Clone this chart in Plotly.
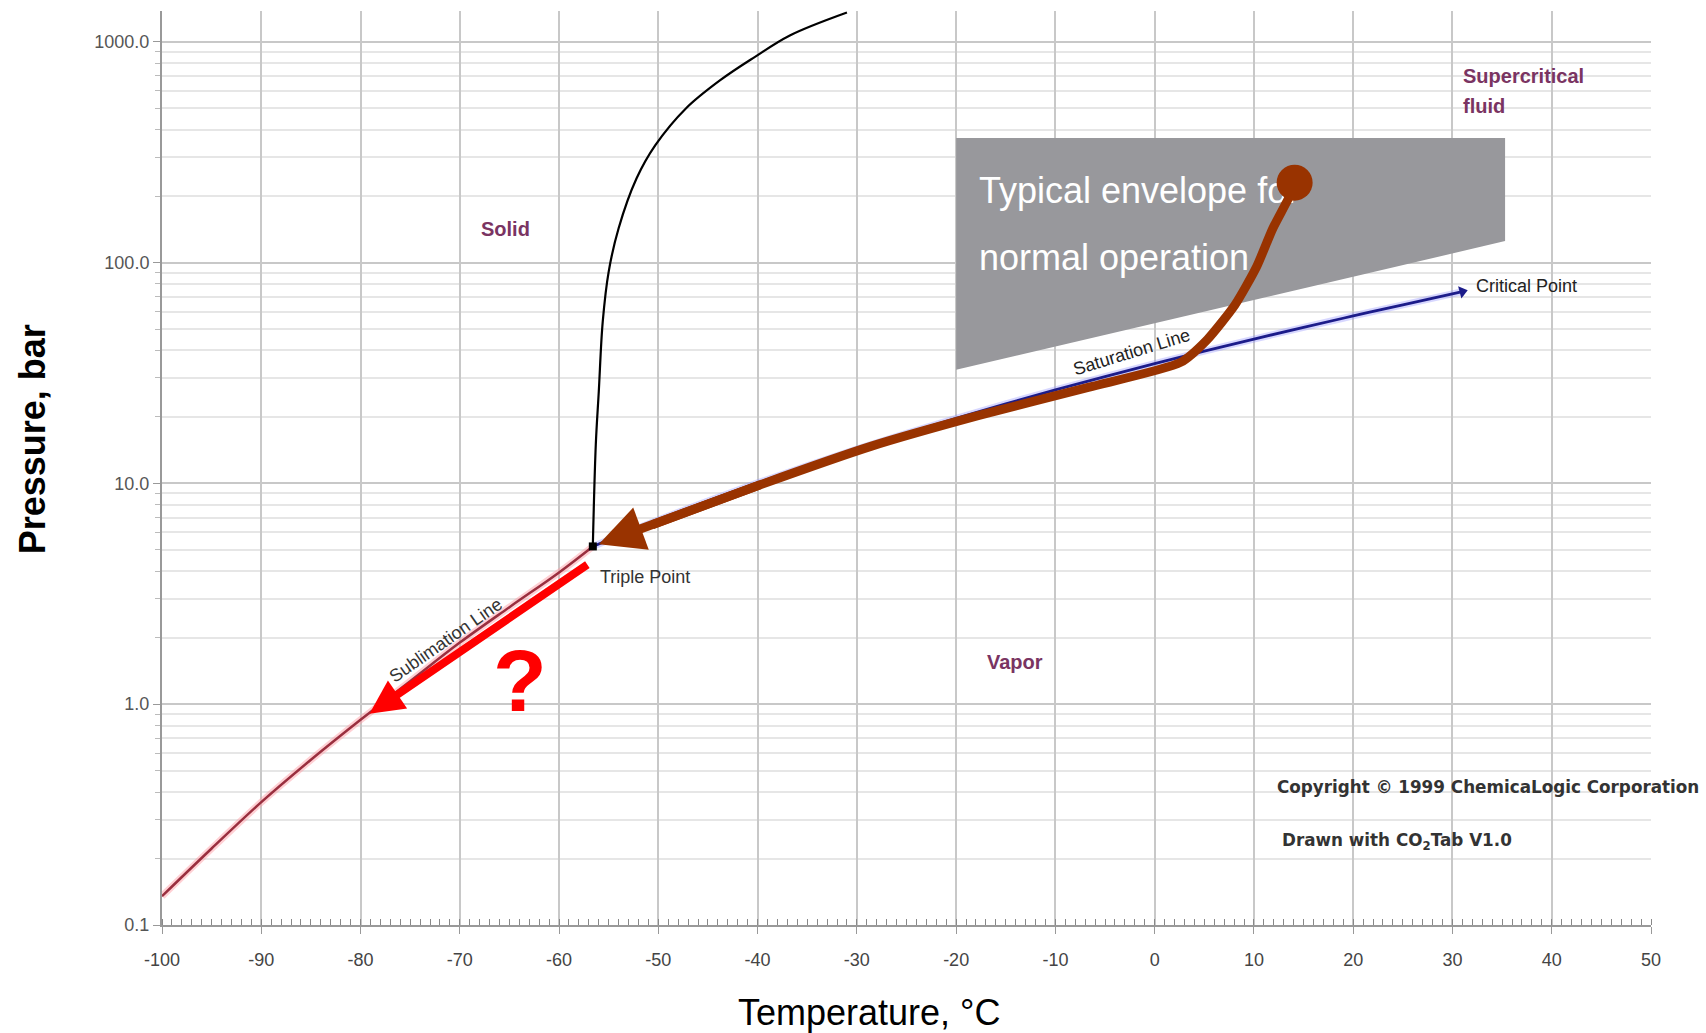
import numpy as np
import plotly.graph_objects as go

# ---------------- data ----------------
# Melting (solid/liquid) line
melt_T = [-56.6, -56.3, -56.0, -55.6, -55.0, -54.0, -52.2, -50.3, -47.2, -43.8, -40.3, -36.8, -31.0]
melt_P = [5.18, 15.0, 26.0, 54.0, 91.0, 143.0, 240.0, 340.0, 500.0, 668.0, 852.0, 1065.0, 1356.0]

# Sublimation line
subl_T = [-100.0, -95.0, -90.0, -85.0, -80.0, -75.0, -70.0, -65.0, -60.0, -56.6]
subl_P = [0.135, 0.222, 0.36, 0.56, 0.85, 1.27, 1.90, 2.75, 3.95, 5.18]

# Saturation (vapour pressure) line
sat_T = [-56.6, -50, -45, -40, -35, -30, -25, -20, -15, -10, -5, 0, 5, 10, 15, 20, 25, 31.0]
sat_P = [5.18, 6.82, 8.32, 10.05, 12.02, 14.28, 16.83, 19.70, 22.91, 26.49, 30.46, 34.85,
         39.69, 45.02, 50.87, 57.29, 64.34, 73.8]

triple_T, triple_P = -56.6, 5.18
critical_T, critical_P = 31.0, 73.8

# Typical operating envelope (grey polygon)
env_T = [-20.0, 35.3, 35.3, -20.0, -20.0]
env_P = [366.0, 366.0, 125.0, 32.7, 366.0]

# Brown blow-down path (from operating point to the triple point)
path_T = [14.1, 13.6, 11.9, 10.27, 8.1, 5.3, 2.6, -6.7, -17.7, -28.6, -39.6, -50.6]
path_P = [230.0, 200.0, 142.6, 95.7, 64.4, 44.8, 35.3, 27.2, 20.3, 14.7, 9.9, 6.5]
path_tip_T, path_tip_P = -56.0, 5.3

# Red question arrow along the sublimation line
red_tail_T, red_tail_P = -57.0, 4.33
red_tip_T, red_tip_P = -79.1, 0.905

# Axis ticks
x_ticks = list(range(-100, 51, 10))
x_ticktext = [str(v) for v in x_ticks]
y_ticks = [0.1, 1, 10, 100, 1000]
y_ticktext = ["0.1", "1.0", "10.0", "100.0", "1000.0"]
y_minor = [m * 10.0 ** e for e in range(-1, 3) for m in range(2, 10)]

# ---------------- figure ----------------
LOG = np.log10
fig = go.Figure()

# grey envelope
fig.add_trace(go.Scatter(x=env_T, y=env_P, mode="lines", fill="toself",
                         fillcolor="rgb(152,152,156)", line=dict(width=0),
                         hoverinfo="skip"))

# envelope text (drawn as trace so the brown dot covers it)
fig.add_trace(go.Scatter(x=[-17.7], y=[10 ** 2.31], mode="text",
                         text=["Typical envelope for"], textposition="middle right",
                         textfont=dict(family="Liberation Sans, Arial", size=36, color="white")))
fig.add_trace(go.Scatter(x=[-17.7], y=[10 ** 2.005], mode="text",
                         text=["normal operation"], textposition="middle right",
                         textfont=dict(family="Liberation Sans, Arial", size=36, color="white")))

# sublimation line (halo + line)
fig.add_trace(go.Scatter(x=subl_T, y=subl_P, mode="lines",
                         line=dict(color="rgba(255,150,160,0.45)", width=7, shape="spline"),
                         hoverinfo="skip"))
fig.add_trace(go.Scatter(x=subl_T, y=subl_P, mode="lines",
                         line=dict(color="#9a2f3f", width=2.5, shape="spline")))

# saturation line (halo + line)
fig.add_trace(go.Scatter(x=sat_T, y=sat_P, mode="lines",
                         line=dict(color="rgba(140,140,255,0.35)", width=7, shape="spline"),
                         hoverinfo="skip"))
fig.add_trace(go.Scatter(x=sat_T, y=sat_P, mode="lines",
                         line=dict(color="#1c1c8a", width=2.8, shape="spline")))
fig.add_trace(go.Scatter(x=[critical_T], y=[critical_P], mode="markers",
                         marker=dict(symbol="triangle-right", size=11, color="#1c1c8a", angle=-15)))

# melting line
fig.add_trace(go.Scatter(x=melt_T, y=melt_P, mode="lines",
                         line=dict(color="black", width=2.2, shape="spline")))
fig.add_trace(go.Scatter(x=[triple_T], y=[triple_P], mode="markers",
                         marker=dict(symbol="square", size=8, color="black")))

# brown path
fig.add_trace(go.Scatter(x=path_T, y=path_P, mode="lines",
                         line=dict(color="#993300", width=9, shape="spline", smoothing=0.6)))
fig.add_trace(go.Scatter(x=[path_T[0]], y=[path_P[0]], mode="markers",
                         marker=dict(size=36, color="#993300")))

annotations = []
# arrowheads
annotations.append(dict(x=path_tip_T, y=LOG(path_tip_P), ax=path_T[-2], ay=LOG(path_P[-2]),
                        xref="x", yref="y", axref="x", ayref="y", text="", showarrow=True,
                        arrowhead=2, arrowsize=1.0, arrowwidth=9, arrowcolor="#993300"))
annotations.append(dict(x=red_tip_T, y=LOG(red_tip_P), ax=red_tail_T, ay=LOG(red_tail_P),
                        xref="x", yref="y", axref="x", ayref="y", text="", showarrow=True,
                        arrowhead=2, arrowsize=0.85, arrowwidth=8, arrowcolor="#ff0000"))

region_font = dict(family="Liberation Sans, Arial", size=20, color="#7a3462")
annotations += [
    dict(x=-65.35, y=2.154, text="<b>Solid</b>", showarrow=False, font=region_font),
    dict(x=-14.07, y=0.193, text="<b>Vapor</b>", showarrow=False, font=region_font),
    dict(x=30.86, y=2.844, text="<b>Supercritical</b>", showarrow=False, xanchor="left", font=region_font),
    dict(x=30.86, y=2.711, text="<b>fluid</b>", showarrow=False, xanchor="left", font=region_font),
    dict(x=32.2, y=1.894, text="Critical Point", showarrow=False, xanchor="left",
         font=dict(family="Liberation Sans, Arial", size=18, color="#222")),
    dict(x=-56.04, y=0.5774, text="Triple Point", showarrow=False, xanchor="left",
         font=dict(family="Liberation Sans, Arial", size=18, color="#333")),
    dict(x=-2.34, y=1.597, text="Saturation Line", showarrow=False, textangle=-17,
         font=dict(family="Liberation Sans, Arial", size=18, color="#222")),
    dict(x=-71.4, y=0.2917, text="Sublimation Line", showarrow=False, textangle=-35,
         font=dict(family="Liberation Sans, Arial", size=18, color="#333")),
    dict(x=-63.9, y=0.109, text="<b>?</b>", showarrow=False,
         font=dict(family="Liberation Sans, Arial", size=88, color="#ff0000")),
    dict(x=12.1, y=-0.3736, text="<b>Copyright © 1999 ChemicaLogic Corporation</b>", showarrow=False,
         xanchor="left", font=dict(family="DejaVu Sans, Verdana", size=16.8, color="#333")),
    dict(x=12.67, y=-0.62, text="<b>Drawn with CO<sub>2</sub>Tab V1.0</b>", showarrow=False,
         xanchor="left", font=dict(family="DejaVu Sans, Verdana", size=16.8, color="#333")),
    # axis titles
    dict(xref="paper", yref="paper", x=-0.0869, y=0.531, xanchor="center", yanchor="middle",
         text="<b>Pressure, bar</b>", textangle=-90, showarrow=False,
         font=dict(family="Liberation Sans, Arial", size=36, color="black")),
    dict(xref="paper", yref="paper", x=0.4751, y=-0.0952, xanchor="center", yanchor="middle",
         text="Temperature, °C", showarrow=False,
         font=dict(family="Liberation Sans, Arial", size=36, color="black")),
]

fig.update_layout(
    width=1706, height=1033,
    margin=dict(l=162, r=55, t=11, b=108),
    paper_bgcolor="white", plot_bgcolor="white",
    showlegend=False,
    font=dict(family="Liberation Sans, Arial", color="#444"),
    annotations=annotations,
)

fig.update_xaxes(
    range=[-100, 50], tickmode="array", tickvals=x_ticks, ticktext=x_ticktext,
    showgrid=True, gridcolor="#c8c8c8", gridwidth=2,
    showline=True, linecolor="#999", linewidth=2,
    ticks="outside", ticklen=7, tickcolor="#999", tickwidth=1,
    ticklabelstandoff=10,
    tickfont=dict(family="Liberation Sans, Arial", size=18, color="#444"),
    minor=dict(dtick=1, tick0=0, ticks="inside", ticklen=6, tickcolor="#888", tickwidth=1, showgrid=False),
    zeroline=False,
)
fig.update_yaxes(
    type="log", range=[-1, 3.139], tickmode="array", tickvals=y_ticks, ticktext=y_ticktext,
    showgrid=True, gridcolor="#c8c8c8", gridwidth=2,
    showline=True, linecolor="#999", linewidth=2,
    ticks="outside", ticklen=7, tickcolor="#999",
    tickfont=dict(family="Liberation Sans, Arial", size=18, color="#555"),
    minor=dict(tickmode="array", tickvals=y_minor, ticks="outside", ticklen=5, tickcolor="#bbb",
               showgrid=True, gridcolor="#e6e6e6", gridwidth=2),
    zeroline=False,
)

fig.write_html("out.html")
